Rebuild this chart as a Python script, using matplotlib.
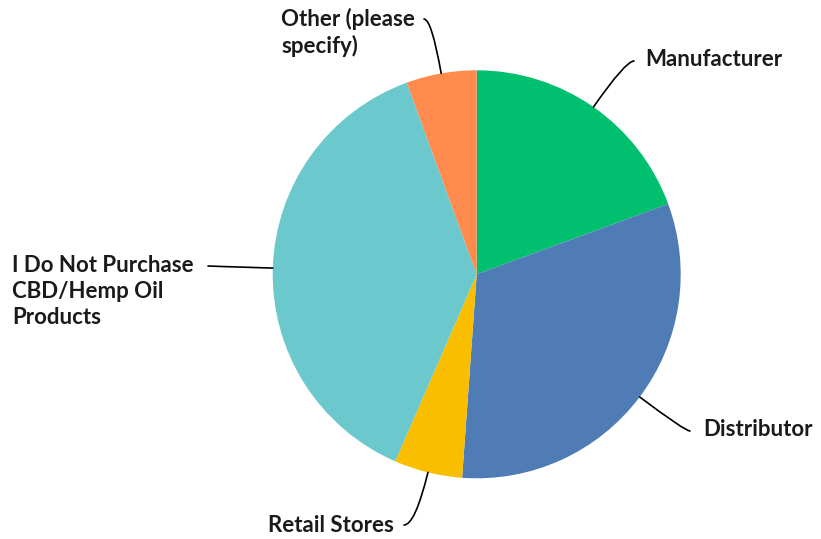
import matplotlib
matplotlib.use("Agg")
import matplotlib.pyplot as plt
import numpy as np

plt.rcParams['font.family'] = ['Lato', 'DejaVu Sans']

labels = ['Manufacturer', 'Distributor', 'Retail Stores',
          'I Do Not Purchase\nCBD/Hemp Oil\nProducts', 'Other (please\nspecify)']
values = [19.4, 31.75, 5.4, 37.9, 5.57]
colors = ['#00BF6F', '#507CB6', '#F9BE00', '#6BC8CD', '#FF8B4F']

W, H = 821, 539
cx, cy, r = 476.7, 274.3, 204

fig = plt.figure(figsize=(W / 100, H / 100), dpi=100)
ax = fig.add_axes([(cx - r) / W, (H - cy - r) / H, 2 * r / W, 2 * r / H])

wedges, _ = ax.pie(values, colors=colors, startangle=90, counterclock=False,
                   radius=1, wedgeprops=dict(linewidth=0))
ax.set_xlim(-1, 1)
ax.set_ylim(-1, 1)
ax.axis('off')


def px(x, y):
    # pixel position -> pie data coords
    return (x - cx) / r, (cy - y) / r


# leader end (px), text anchor (px), ha, va
label_layout = [
    ((634, 61), (645, 59), 'left', 'center'),
    ((690, 431), (703, 430), 'left', 'center'),
    ((404, 525), (394, 525), 'right', 'center'),
    ((208, 266), (12, 255), 'left', 'top'),
    ((424, 19), (415, 8), 'right', 'top'),
]

for w, lab, (end, tpos, ha, va) in zip(wedges, labels, label_layout):
    mid = np.deg2rad((w.theta1 + w.theta2) / 2)
    ex, ey = np.cos(mid), np.sin(mid)
    lx, ly = px(*end)
    ax.annotate('', xy=(ex, ey), xytext=(lx, ly), annotation_clip=False,
                arrowprops=dict(arrowstyle='-', color='black', lw=1.2,
                                shrinkA=0, shrinkB=0,
                                connectionstyle=f'angle3,angleA=0,angleB={np.rad2deg(mid)}'))
    tx, ty = px(*tpos)
    ax.text(tx, ty, lab, ha=ha, va=va, multialignment='left', fontsize=16,
            fontweight='bold', color='#1a1a1a', linespacing=1.28, clip_on=False)

fig.savefig('out.png', dpi=100)
